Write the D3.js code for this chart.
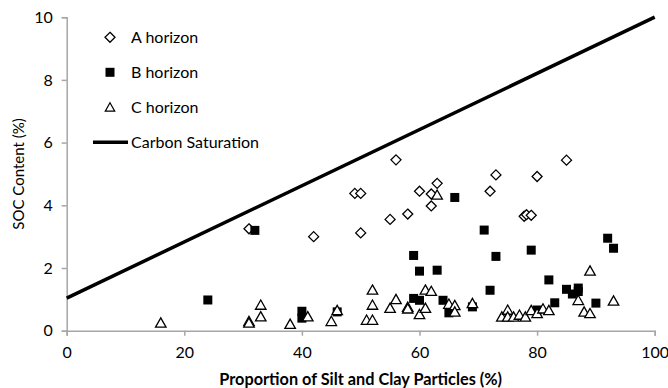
<!DOCTYPE html>
<html><head><meta charset="utf-8">
<script src="https://cdn.jsdelivr.net/npm/d3@7"></script>
<style>body{margin:0;background:#fff}svg{display:block}text{font-family:Lato,"Open Sans",sans-serif;fill:#000}</style>
</head><body>
<script>
const aHorizon = [[31,3.25],[42,3.0],[49,4.38],[50,4.38],[50,3.12],[55,3.55],[56,5.45],[58,3.72],[60,4.45],[62,4.36],[62,3.98],[63,4.7],[72,4.45],[73,4.97],[77.8,3.65],[78.2,3.7],[79,3.68],[80,4.92],[85,5.44]];
const bHorizon = [[24,0.98],[32,3.2],[40,0.62],[40,0.4],[46,0.6],[59,2.4],[59,1.03],[60,1.9],[60,0.97],[63,1.93],[64,0.97],[65,0.57],[66,4.25],[69,0.76],[71,3.21],[72,1.29],[73,2.37],[79,2.57],[80,0.66],[82,1.62],[83,0.89],[85,1.32],[86,1.17],[87,1.36],[87,1.25],[90,0.88],[92,2.95],[93,2.63]];
const cHorizon = [[16,0.25],[31,0.3],[31,0.25],[33,0.82],[33,0.45],[38,0.21],[41,0.45],[45,0.3],[46,0.65],[51,0.34],[52,1.3],[52,0.82],[52,0.34],[55,0.72],[56,1.0],[58,0.75],[58,0.7],[60,0.52],[61,1.3],[61,0.72],[62,1.26],[63,4.33],[65,0.85],[66,0.81],[66,0.6],[69,0.87],[74,0.44],[75,0.66],[75,0.44],[76,0.44],[77,0.5],[78,0.44],[79,0.65],[80,0.55],[81,0.7],[82,0.65],[87,0.97],[88,0.6],[89,0.55],[89,1.91],[93,0.95]];
const saturation = [[0,1.04],[100,10]];
const xTicks = [0,20,40,60,80,100];
const yTicks = [0,2,4,6,8,10];
const legendLabels = ["A horizon","B horizon","C horizon","Carbon Saturation"];

const W=668,H=388;
const m={l:66.7,r:13.3,t:17.2,b:57.3};
const svg=d3.select("body").append("svg").attr("width",W).attr("height",H);
const x=d3.scaleLinear().domain([0,100]).range([m.l,W-m.r]);
const y=d3.scaleLinear().domain([0,10]).range([H-m.b,m.t]);

const axisColor="#a6a6a6";
const gx=svg.append("g").attr("transform",`translate(0,${y(0)})`)
  .call(d3.axisBottom(x).tickValues(xTicks).tickSize(5).tickPadding(11));
const gy=svg.append("g").attr("transform",`translate(${x(0)},0)`)
  .call(d3.axisLeft(y).tickValues(yTicks).tickSize(5).tickPadding(9));
[gx,gy].forEach(g=>{
  g.select(".domain").attr("stroke",axisColor).attr("stroke-width",1.5);
  g.selectAll(".tick line").attr("stroke",axisColor).attr("stroke-width",1.5);
  g.selectAll(".tick text").style("font-family","Lato").style("font-size","16px").attr("fill","#000");
});

svg.append("text").attr("transform",`translate(24,${(y(0)+y(10))/2}) rotate(-90)`)
  .attr("text-anchor","middle").style("font-size","15px").text("SOC Content (%)");
svg.append("text").attr("x",(x(0)+x(100))/2).attr("y",385)
  .attr("text-anchor","middle").style("font-size","16.3px").style("font-weight","bold")
  .text("Proportion of Silt and Clay Particles (%)");

const line=d3.line().x(d=>x(d[0])).y(d=>y(d[1]));
const diamond=(s)=>`M0,${-s}L${s},0L0,${s}L${-s},0Z`;
const tri=(s)=>`M0,${-s}L${s*1.05},${s*0.85}L${-s*1.05},${s*0.85}Z`;

function drawA(g,pts){g.selectAll(null).data(pts).enter().append("path")
  .attr("d",diamond(5)).attr("transform",d=>`translate(${x(d[0])},${y(d[1])})`)
  .attr("fill","#fff").attr("stroke","#000").attr("stroke-width",1.3);}
function drawB(g,pts){g.selectAll(null).data(pts).enter().append("rect")
  .attr("x",d=>x(d[0])-4.5).attr("y",d=>y(d[1])-4.5).attr("width",9).attr("height",9)
  .attr("fill","#000");}
function drawC(g,pts){g.selectAll(null).data(pts).enter().append("path")
  .attr("d",tri(5)).attr("transform",d=>`translate(${x(d[0])},${y(d[1])})`)
  .attr("fill","#fff").attr("stroke","#000").attr("stroke-width",1.3);}

const plot=svg.append("g");
drawA(plot,aHorizon);
drawB(plot,bHorizon);
drawC(plot,cHorizon);
plot.append("path").datum(saturation).attr("d",line).attr("fill","none")
  .attr("stroke","#000").attr("stroke-width",3.5);

// legend
const lg=svg.append("g");
const ly=[37.3,72.3,107.3,142.3];
lg.append("path").attr("d",diamond(5)).attr("transform",`translate(110,${ly[0]})`)
  .attr("fill","#fff").attr("stroke","#000").attr("stroke-width",1.3);
lg.append("rect").attr("x",110-4.5).attr("y",ly[1]-4.5).attr("width",9).attr("height",9).attr("fill","#000");
lg.append("path").attr("d",tri(4.5)).attr("transform",`translate(110,${ly[2]})`)
  .attr("fill","#fff").attr("stroke","#000").attr("stroke-width",1.2);
lg.append("line").attr("x1",93).attr("x2",128).attr("y1",ly[3]).attr("y2",ly[3])
  .attr("stroke","#000").attr("stroke-width",3.5);
legendLabels.forEach((t,i)=>{
  lg.append("text").attr("x",131).attr("y",ly[i]).attr("dy","0.35em")
    .style("font-size","16px").text(t);
});
</script>
</body></html>
